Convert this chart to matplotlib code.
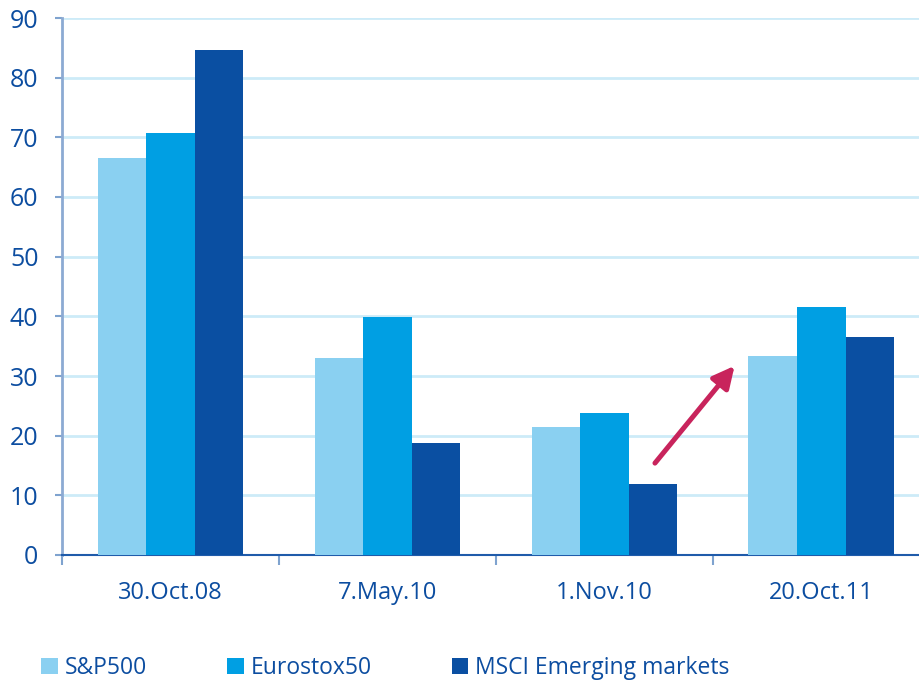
import matplotlib
matplotlib.use("Agg")
import matplotlib.pyplot as plt
import numpy as np

# Data
categories = ["30.Oct.08", "7.May.10", "1.Nov.10", "20.Oct.11"]
series_names = ["S&P500", "Eurostox50", "MSCI Emerging markets"]
sp500 = [66.5, 33.0, 21.5, 33.4]
eurostox50 = [70.7, 39.9, 23.8, 41.6]
msci_em = [84.6, 18.8, 11.9, 36.5]
y_ticks = [0, 10, 20, 30, 40, 50, 60, 70, 80, 90]

colors = ["#8AD0F1", "#009FE3", "#0A4FA2"]
text_color = "#0C4DA0"
grid_color = "#CDEBF8"
arrow_color = "#C8245C"

plt.rcParams["font.family"] = ["Open Sans", "DejaVu Sans"]

fig = plt.figure(figsize=(9.19, 6.81), dpi=100)
ax = fig.add_axes([62 / 919, 1 - 555 / 681, 1 - 62 / 919, (555 - 18) / 681])

x = np.arange(len(categories))
width = 0.224
for i, (vals, name) in enumerate(zip([sp500, eurostox50, msci_em], series_names)):
    ax.bar(x + (i - 1) * width, vals, width, color=colors[i], label=name, zorder=3)

ax.set_xlim(-0.5, 3.45)
ax.set_ylim(0, 90)
ax.set_yticks(y_ticks)
ax.yaxis.grid(True, color=grid_color, linewidth=2, zorder=0)
ax.set_axisbelow(True)

# category labels between boundary ticks
ax.set_xticks(np.arange(-0.5, 3.5, 1.0))
ax.set_xticklabels([])
ax.set_xticks(x, minor=True)
ax.set_xticklabels(categories, minor=True)
ax.tick_params(axis="x", which="major", length=7, width=1.5, color="#7FA3CF", direction="out")
ax.tick_params(axis="x", which="minor", length=0, pad=19, labelsize=17, labelcolor=text_color)
ax.tick_params(axis="y", length=5, width=1.5, color="#7FA3CF", labelsize=18,
               labelcolor=text_color, pad=12)

for side in ["top", "right"]:
    ax.spines[side].set_visible(False)
ax.spines["left"].set_color("#8CAAD3")
ax.spines["left"].set_linewidth(2)
ax.spines["bottom"].set_color("#1F5BAA")
ax.spines["bottom"].set_linewidth(1.5)

# trend arrow from the 1.Nov.10 low toward the 20.Oct.11 group
ax.annotate("", xy=(2.60, 31.7), xytext=(2.233, 15.4),
            arrowprops=dict(arrowstyle="-|>,head_length=1.3,head_width=0.65",
                            color=arrow_color, lw=3.6, shrinkA=0, shrinkB=0),
            zorder=4)

handles, labels = ax.get_legend_handles_labels()
fig.legend(handles, labels, loc="center left", bbox_to_anchor=(0.045, 1 - 668 / 681),
           ncol=3, frameon=False, fontsize=16.5, labelcolor=text_color,
           handlelength=0.72, handleheight=0.72, handletextpad=0.3,
           columnspacing=3.5, borderaxespad=0, borderpad=0)

fig.savefig("out.png", dpi=100)
